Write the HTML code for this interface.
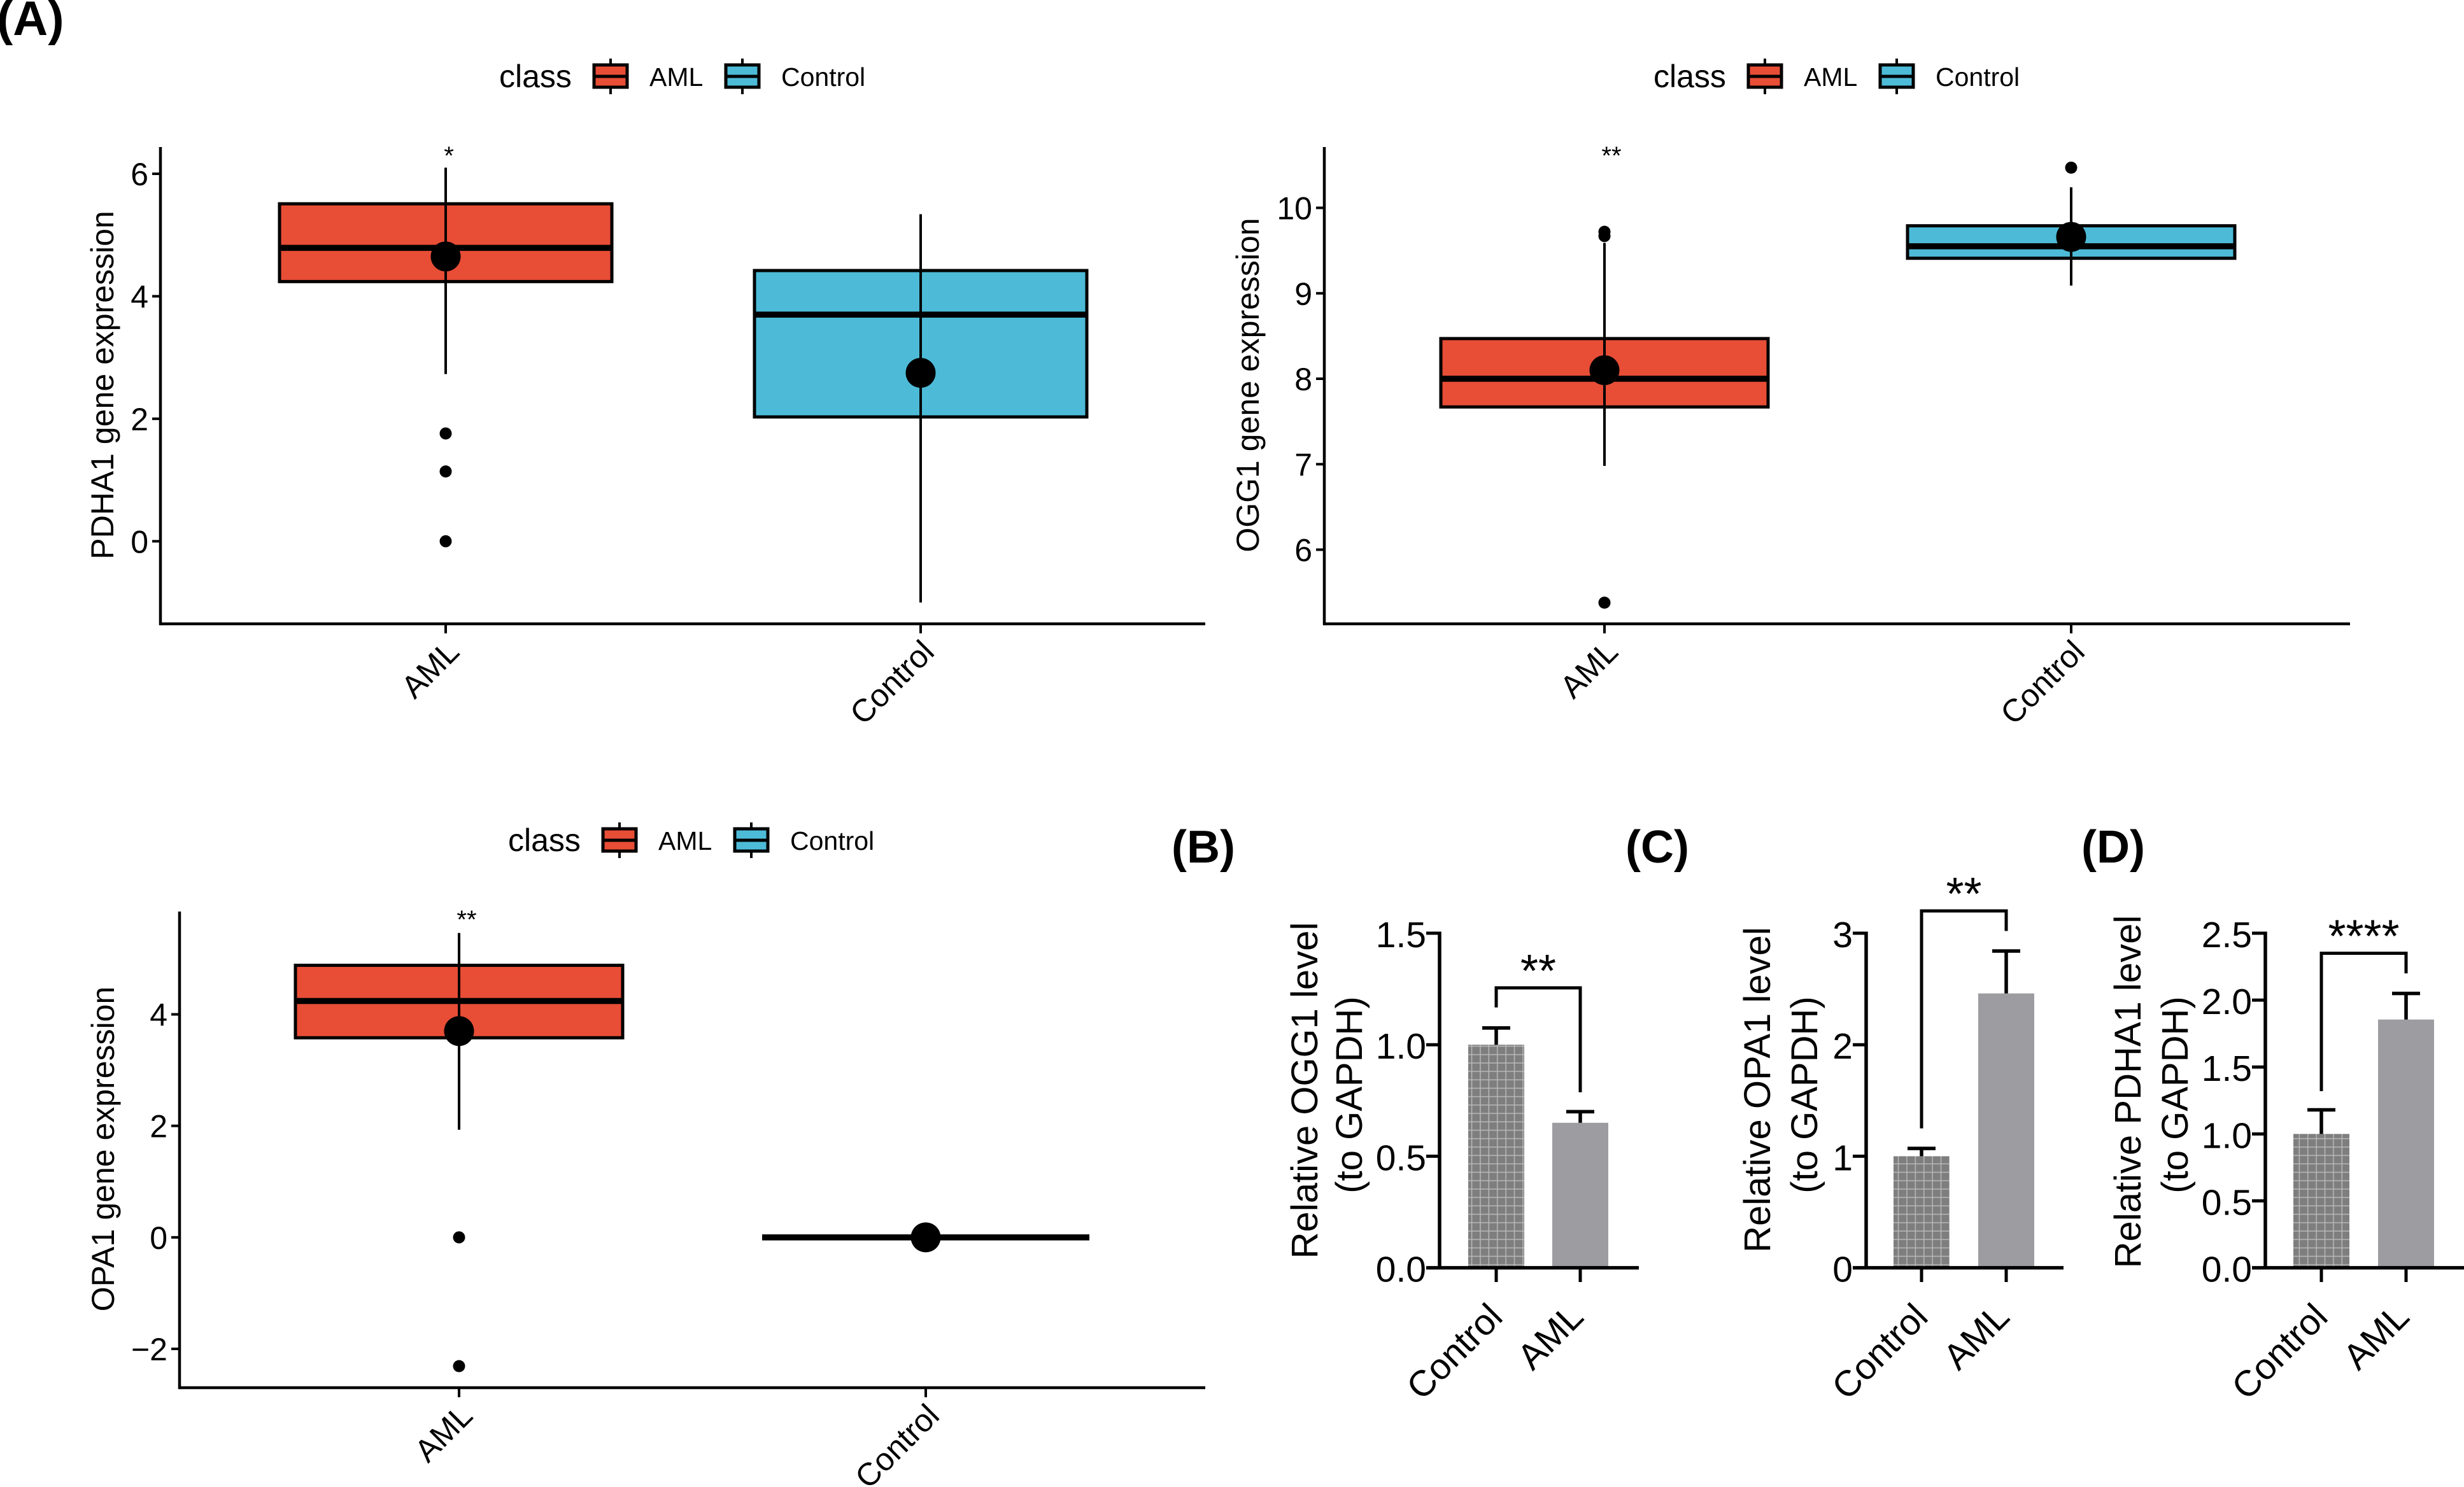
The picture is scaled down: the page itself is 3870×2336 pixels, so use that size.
<!DOCTYPE html>
<html lang="en">
<head>
<meta charset="utf-8">
<title>AML vs Control gene expression figure</title>
<style>
html,body{margin:0;padding:0;background:#fff;}
svg{display:block;font-family:"Liberation Sans",Arial,sans-serif;}
text{fill:#000;}
</style>
</head>
<body>
<svg id="figure" xmlns="http://www.w3.org/2000/svg" width="3870" height="2336" viewBox="0 0 3870 2336">
  <defs>
    <pattern id="grid-fill" patternUnits="userSpaceOnUse" width="13.4" height="13.2">
      <rect width="13.4" height="13.2" fill="#7e7e7e"/>
      <rect x="6" width="1.5" height="13.2" fill="#b8b8b8"/>
      <rect y="6" width="13.4" height="1.5" fill="#b8b8b8"/>
    </pattern>
  </defs>
  <rect width="3870" height="2336" fill="#fff"/>

  <text x="-5" y="55" font-size="76" font-weight="bold">(A)</text>
  <text x="1840" y="1355" font-size="72" font-weight="bold">(B)</text>
  <text x="2553" y="1355" font-size="72" font-weight="bold">(C)</text>
  <text x="3269" y="1355" font-size="72" font-weight="bold">(D)</text>

  <g id="pdha1-box">
    <text transform="translate(178,605) rotate(-90)" text-anchor="middle" font-size="50">PDHA1 gene expression</text>
    <text x="705" y="258" text-anchor="middle" font-size="40">*</text>
  </g>
  <g id="ogg1-box">
    <text transform="translate(1977,605) rotate(-90)" text-anchor="middle" font-size="50">OGG1 gene expression</text>
    <text x="2531" y="258" text-anchor="middle" font-size="40">**</text>
  </g>
  <g id="opa1-box">
    <text transform="translate(179,1805) rotate(-90)" text-anchor="middle" font-size="50">OPA1 gene expression</text>
    <text x="733" y="1458" text-anchor="middle" font-size="40">**</text>
  </g>

  <g id="ogg1-bar">
    <text transform="translate(2069,1713) rotate(-90)" text-anchor="middle" font-size="58">Relative OGG1 level</text>
    <text transform="translate(2139,1720) rotate(-90)" text-anchor="middle" font-size="58">(to GAPDH)</text>
  </g>
  <g id="opa1-bar">
    <text transform="translate(2780,1712) rotate(-90)" text-anchor="middle" font-size="58">Relative OPA1 level</text>
    <text transform="translate(2854,1720) rotate(-90)" text-anchor="middle" font-size="58">(to GAPDH)</text>
  </g>
  <g id="pdha1-bar">
    <text transform="translate(3362,1715) rotate(-90)" text-anchor="middle" font-size="58">Relative PDHA1 level</text>
    <text transform="translate(3436,1720) rotate(-90)" text-anchor="middle" font-size="58">(to GAPDH)</text>
  </g>
</svg>

<script>
// ---- Boxplot data ----
const boxCategories = ['AML', 'Control'];
const legendLabels = ['AML', 'Control'];
const legendTitle = 'class';

const pdha1Ticks = [0, 2, 4, 6];
const pdha1TickLabels = ['0', '2', '4', '6'];
const pdha1Q1 = [4.24, 2.03];
const pdha1Median = [4.79, 3.70];
const pdha1Q3 = [5.51, 4.42];
const pdha1WhiskerLow = [2.73, -1.0];
const pdha1WhiskerHigh = [6.10, 5.34];
const pdha1Mean = [4.65, 2.75];
const pdha1Outliers = [[1.76, 1.14, 0], []];

const ogg1Ticks = [6, 7, 8, 9, 10];
const ogg1TickLabels = ['6', '7', '8', '9', '10'];
const ogg1Q1 = [7.67, 9.41];
const ogg1Median = [8.0, 9.55];
const ogg1Q3 = [8.47, 9.79];
const ogg1WhiskerLow = [6.98, 9.09];
const ogg1WhiskerHigh = [9.59, 10.24];
const ogg1Mean = [8.10, 9.66];
const ogg1Outliers = [[9.72, 9.67, 5.38], [10.47]];

const opa1Ticks = [-2, 0, 2, 4];
const opa1TickLabels = ['\u22122', '0', '2', '4'];
const opa1Q1 = [3.58, 0];
const opa1Median = [4.24, 0];
const opa1Q3 = [4.88, 0];
const opa1WhiskerLow = [1.93, 0];
const opa1WhiskerHigh = [5.46, 0];
const opa1Mean = [3.70, 0];
const opa1Outliers = [[0, -2.31], []];

// ---- Bar chart data ----
const barCategories = ['Control', 'AML'];

const ogg1BarValues = [1.0, 0.65];
const ogg1BarErrors = [0.075, 0.05];
const ogg1BarTicks = [0, 0.5, 1.0, 1.5];
const ogg1BarTickLabels = ['0.0', '0.5', '1.0', '1.5'];
const ogg1BarBracket = [1.167, 1.255, 0.787];
const ogg1BarStars = '**';

const opa1BarValues = [1.0, 2.46];
const opa1BarErrors = [0.07, 0.38];
const opa1BarTicks = [0, 1, 2, 3];
const opa1BarTickLabels = ['0', '1', '2', '3'];
const opa1BarBracket = [1.25, 3.2, 3.02];
const opa1BarStars = '**';

const pdha1BarValues = [1.0, 1.855];
const pdha1BarErrors = [0.18, 0.195];
const pdha1BarTicks = [0, 0.5, 1.0, 1.5, 2.0, 2.5];
const pdha1BarTickLabels = ['0.0', '0.5', '1.0', '1.5', '2.0', '2.5'];
const pdha1BarBracket = [1.32, 2.35, 2.2];
const pdha1BarStars = '****';

// ---- Drawing ----
const NS = 'http://www.w3.org/2000/svg';
const boxColors = ['#e84d36', '#4dbbd7'];

function add(parent, tag, attrs, text) {
  const node = document.createElementNS(NS, tag);
  for (const k in attrs) node.setAttribute(k, attrs[k]);
  if (text !== undefined) node.textContent = text;
  parent.appendChild(node);
  return node;
}
function linearScale(d0, d1, r0, r1) {
  return v => r0 + (v - d0) * (r1 - r0) / (d1 - d0);
}

function drawLegend(root, dx, dy) {
  const g = add(root, 'g', {});
  
  
  const title = add(g, 'text', {x: 784 + dx, y: 137 + dy, 'font-size': 50}, legendTitle);
  
  
  const keyX = [959, 1166];
  const labelX = [1020, 1227];
  legendLabels.forEach((label, i) => {
    const entry = add(g, 'g', {});
    
    
    const cx = keyX[i] + dx;
    add(entry, 'line', {x1: cx, x2: cx, y1: 92 + dy, y2: 148 + dy, stroke: '#000', 'stroke-width': 4});
    add(entry, 'rect', {x: cx - 26, y: 102 + dy, width: 52, height: 35, fill: boxColors[i], stroke: '#000', 'stroke-width': 5});
    add(entry, 'line', {x1: cx - 26, x2: cx + 26, y1: 120 + dy, y2: 120 + dy, stroke: '#000', 'stroke-width': 5});
    const t = add(entry, 'text', {x: labelX[i] + dx, y: 135 + dy, 'font-size': 41}, label);
    
    
  });
}

function drawBoxPanel(id, c) {
  const root = document.getElementById(id);
  const y = linearScale(c.domain[0], c.domain[1], c.range[0], c.range[1]);
  const x = i => c.x0 + i * c.step;

  c.categories.forEach((cat, i) => {
    const g = add(root, 'g', {});
    
    
    const cx = x(i);
    const box = add(g, 'rect', {
      x: cx - c.half, y: y(c.q3[i]), width: 2 * c.half, height: Math.max(0, y(c.q1[i]) - y(c.q3[i])),
      fill: boxColors[i], stroke: '#000', 'stroke-width': 5
    });
    
    
    const med = add(g, 'line', {x1: cx - c.half, x2: cx + c.half, y1: y(c.med[i]), y2: y(c.med[i]), stroke: '#000', 'stroke-width': 9.5});
    
    
    const wh = add(g, 'line', {x1: cx, x2: cx, y1: y(c.whiskerHigh[i]), y2: y(c.whiskerLow[i]), stroke: '#000', 'stroke-width': 4});
    
    
    const mean = add(g, 'circle', {cx: cx, cy: y(c.mean[i]), r: 23.5, fill: '#000'});
    
    
    c.outliers[i].forEach(v => {
      const o = add(g, 'circle', {cx: cx, cy: y(v), r: 9.5, fill: '#000'});
      
      
    });
  });

  const axisY = add(root, 'line', {x1: c.axisX, x2: c.axisX, y1: c.top, y2: c.axisY + 2.25, stroke: '#000', 'stroke-width': 4.5});
  
  
  const axisX = add(root, 'line', {x1: c.axisX, x2: c.right, y1: c.axisY, y2: c.axisY, stroke: '#000', 'stroke-width': 4.5});
  
  

  c.ticks.forEach((v, i) => {
    add(root, 'line', {x1: c.axisX - 13, x2: c.axisX, y1: y(v), y2: y(v), stroke: '#000', 'stroke-width': 4});
    const t = add(root, 'text', {x: c.axisX - 19, y: y(v) + 18, 'text-anchor': 'end', 'font-size': 50}, c.tickLabels[i]);
    
    
  });
  c.categories.forEach((cat, i) => {
    add(root, 'line', {x1: x(i), x2: x(i), y1: c.axisY, y2: c.axisY + 15, stroke: '#000', 'stroke-width': 4});
    const ax = x(i) + 24, ay = c.axisY + 47;
    const t = add(root, 'text', {x: ax, y: ay, 'text-anchor': 'end', 'font-size': 50, transform: 'rotate(-45 ' + ax + ' ' + ay + ')'}, cat);
    
    
  });
  drawLegend(root, c.legendDx, c.legendDy);
}

function drawBarPanel(id, c) {
  const root = document.getElementById(id);
  const y = linearScale(0, c.domainMax, 1991.6, 1466);
  const x = i => c.x0 + i * c.step;
  const fills = ['url(#grid-fill)', '#9d9ca1'];
  const labelDx = [13, 8];

  c.values.forEach((v, i) => {
    const bar = add(root, 'rect', {x: x(i) - 44, y: y(v), width: 88, height: y(0) - y(v), fill: fills[i]});
    
    
    const top = y(v + c.errors[i]);
    const err = add(root, 'path', {d: 'M' + x(i) + ' ' + y(v) + 'V' + top + 'M' + (x(i) - 22) + ' ' + top + 'H' + (x(i) + 22), fill: 'none', stroke: '#000', 'stroke-width': 5.5});
    
    
  });

  const yLine = add(root, 'line', {x1: c.axisX, x2: c.axisX, y1: 1463.5, y2: 1994, stroke: '#000', 'stroke-width': 5.5});
  
  
  const xLine = add(root, 'line', {x1: c.axisX - 21, x2: c.right, y1: 1991.6, y2: 1991.6, stroke: '#000', 'stroke-width': 5.5});
  
  

  c.ticks.forEach((v, i) => {
    add(root, 'line', {x1: c.axisX - 21, x2: c.axisX, y1: y(v), y2: y(v), stroke: '#000', 'stroke-width': 5});
    const t = add(root, 'text', {x: c.axisX - 21, y: y(v) + 22, 'text-anchor': 'end', 'font-size': 57}, c.tickLabels[i]);
    
    
  });
  barCategories.forEach((cat, i) => {
    add(root, 'line', {x1: x(i), x2: x(i), y1: 1991.6, y2: 2014, stroke: '#000', 'stroke-width': 5});
    const ax = x(i) + labelDx[i], ay = 2072;
    const t = add(root, 'text', {x: ax, y: ay, 'text-anchor': 'end', 'font-size': 57, transform: 'rotate(-45 ' + ax + ' ' + ay + ')'}, cat);
    
    
  });

  const br = c.bracket;
  const bracket = add(root, 'path', {d: 'M' + x(0) + ' ' + y(br[0]) + 'V' + y(br[1]) + 'H' + x(1) + 'V' + y(br[2]), fill: 'none', stroke: '#000', 'stroke-width': 5});
  
  
  const stars = add(root, 'text', {x: (x(0) + x(1)) / 2, y: y(br[1]) - 2, 'text-anchor': 'middle', 'font-size': 72}, c.stars);
  
  
}

drawBoxPanel('pdha1-box', {
  categories: boxCategories, domain: [0, 6], range: [850.3, 273], x0: 700, step: 746, half: 261,
  axisX: 252, axisY: 980, top: 231, right: 1893,
  q1: pdha1Q1, q3: pdha1Q3, med: pdha1Median, whiskerLow: pdha1WhiskerLow, whiskerHigh: pdha1WhiskerHigh,
  mean: pdha1Mean, outliers: pdha1Outliers, ticks: pdha1Ticks, tickLabels: pdha1TickLabels, legendDx: 0, legendDy: 0
});
drawBoxPanel('ogg1-box', {
  categories: boxCategories, domain: [6, 10], range: [863.5, 326.5], x0: 2520, step: 733, half: 257,
  axisX: 2080, axisY: 980, top: 231, right: 3691,
  q1: ogg1Q1, q3: ogg1Q3, med: ogg1Median, whiskerLow: ogg1WhiskerLow, whiskerHigh: ogg1WhiskerHigh,
  mean: ogg1Mean, outliers: ogg1Outliers, ticks: ogg1Ticks, tickLabels: ogg1TickLabels, legendDx: 1813, legendDy: 0
});
drawBoxPanel('opa1-box', {
  categories: boxCategories, domain: [-2, 4], range: [2119, 1593.5], x0: 721, step: 733, half: 257,
  axisX: 282, axisY: 2180, top: 1432, right: 1893,
  q1: opa1Q1, q3: opa1Q3, med: opa1Median, whiskerLow: opa1WhiskerLow, whiskerHigh: opa1WhiskerHigh,
  mean: opa1Mean, outliers: opa1Outliers, ticks: opa1Ticks, tickLabels: opa1TickLabels, legendDx: 14, legendDy: 1200
});

drawBarPanel('ogg1-bar', {
  domainMax: 1.5, x0: 2350, step: 132, axisX: 2261, right: 2574,
  values: ogg1BarValues, errors: ogg1BarErrors, ticks: ogg1BarTicks, tickLabels: ogg1BarTickLabels, bracket: ogg1BarBracket, stars: ogg1BarStars
});
drawBarPanel('opa1-bar', {
  domainMax: 3, x0: 3018, step: 133, axisX: 2931, right: 3241,
  values: opa1BarValues, errors: opa1BarErrors, ticks: opa1BarTicks, tickLabels: opa1BarTickLabels, bracket: opa1BarBracket, stars: opa1BarStars
});
drawBarPanel('pdha1-bar', {
  domainMax: 2.5, x0: 3646, step: 133, axisX: 3558, right: 3870,
  values: pdha1BarValues, errors: pdha1BarErrors, ticks: pdha1BarTicks, tickLabels: pdha1BarTickLabels, bracket: pdha1BarBracket, stars: pdha1BarStars
});
</script>
</body>
</html>
